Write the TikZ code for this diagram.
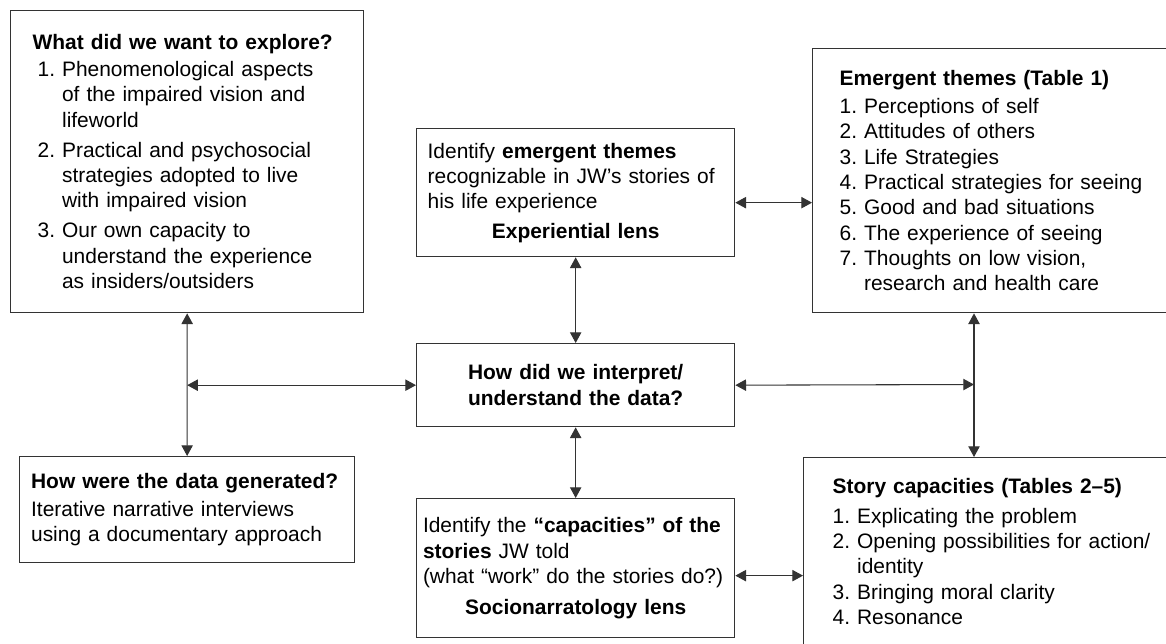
\documentclass[tikz,border=0pt]{standalone}
\usepackage{fontspec}
\setmainfont{Liberation Sans}
\usetikzlibrary{arrows.meta,
                positioning}
\definecolor{boxline}{HTML}{333333}
\newcommand{\ind}{\phantom{1. }}

\begin{document}
\frenchspacing
\begin{tikzpicture}[x=0.75pt,y=-0.75pt,
  font=\fontsize{15.7}{19}\selectfont,
  box/.style={draw=boxline,line width=1pt,anchor=north west,align=left,inner ysep=0pt},
  link/.style={boxline,line width=0.8pt,{Triangle[length=8pt,width=8.5pt]}-{Triangle[length=8pt,width=8.5pt]}}]
 \useasboundingbox (0,0) rectangle (1166,643);
 \clip (0,0) rectangle (1166,643);

 \node[box,text width=224.25pt,inner xsep=20.25pt,minimum height=226.5pt] (explore) at (10,10)
   {\hspace*{-3.75pt}\textbf{What did we want to explore?}\\[1pt]
    1. Phenomenological aspects\\
    \ind of the impaired vision and\\
    \ind lifeworld\\[3.5pt]
    2. Practical and psychosocial\\
    \ind strategies adopted to live\\
    \ind with impaired vision\\[3.5pt]
    3. Our own capacity to\\
    \ind understand the experience\\
    \ind as insiders/outsiders};
 \node[box,text width=234pt,inner xsep=8.6pt,minimum height=79.5pt] (data) at (19,456)
   {\textbf{How were the data generated?}\\[2pt]
    Iterative narrative interviews\\
    using a documentary approach};
 \node[box,text width=222pt,inner xsep=8.25pt,minimum height=96pt] (exper) at (416,128)
   {Identify \textbf{emergent themes}\\
    recognizable in JW’s stories of\\
    his life experience\par\vspace{3pt}
    {\centering\textbf{Experiential lens}\par}};
 \node[box,align=center,text width=222pt,inner xsep=8.25pt,minimum height=62.25pt] (interp) at (416,343)
   {\textbf{How did we interpret/}\\
    \textbf{understand the data?}};
 \node[box,text width=229pt,inner xsep=4.75pt,minimum height=104.25pt] (socio) at (416,498)
   {Identify the \textbf{“capacities” of the}\\
    \textbf{stories} JW told\\
    (what “work” do the stories do?)\par\vspace{4pt}
    {\centering\textbf{Socionarratology lens}\par}};
 \node[box,text width=259.5pt,inner xsep=20.25pt,minimum height=198pt] (themes) at (812,48)
   {\textbf{Emergent themes (Table 1)}\\[2pt]
    1. Perceptions of self\\
    2. Attitudes of others\\
    3. Life Strategies\\
    4. Practical strategies for seeing\\
    5. Good and bad situations\\
    6. The experience of seeing\\
    7. Thoughts on low vision,\\
    \ind research and health care};
 \node[box,text width=256.5pt,inner xsep=21.75pt,minimum height=140.5pt] (story) at (803,457)
   {\textbf{Story capacities (Tables 2--5)}\\[3.5pt]
    1. Explicating the problem\\
    2. Opening possibilities for action/\\
    \ind identity\\
    3. Bringing moral clarity\\
    4. Resonance};

 \coordinate (jl) at (explore.south |- interp.west);
 \coordinate (jr) at (974,384.5);

 \draw[link] (explore.south) -- (data.north);
 \draw[link] (jl) -- (interp.west);
 \draw[link] (exper.south) -- (interp.north);
 \draw[link] (interp.south) -- (socio.north);
 \draw[link] (interp.east) -- (jr);
 \draw[link] (themes.south -| jr) -- (story.north -| jr);
 \draw[link] ([yshift=-7.5pt]exper.east) -- ([yshift=-7.5pt]exper.east -| themes.west);
 \draw[link] ([yshift=-5.6pt]socio.east) -- ([yshift=-5.6pt]socio.east -| story.west);
\end{tikzpicture}
\end{document}
